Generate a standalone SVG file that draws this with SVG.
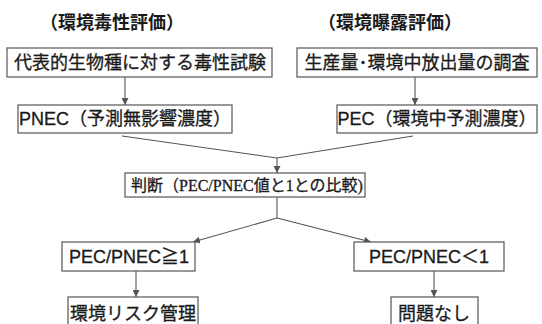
<svg xmlns="http://www.w3.org/2000/svg" width="542" height="324" viewBox="0 0 542 324">
<defs>
<style>
.box{fill:#fff;stroke:#555;stroke-width:1.2}
.t{font-family:"Liberation Sans","Noto Sans CJK JP",sans-serif;font-size:18px;fill:#1a1a1a;stroke:#1a1a1a;stroke-width:0.3;text-anchor:middle}
.h{font-weight:bold;font-size:18px;stroke-width:0}
.j{font-size:16px;text-anchor:start}
.s{font-family:"Liberation Serif","Noto Sans CJK JP",serif}
.ln{fill:none;stroke:#555;stroke-width:1.1}
.ar{marker-end:url(#ah)}
</style>
<marker id="ah" viewBox="0 0 10 10" refX="10" refY="5" markerWidth="7" markerHeight="7" markerUnits="userSpaceOnUse" orient="auto">
<path d="M0,0 L10,5 L0,10 z" fill="#555"/>
</marker>
</defs>
<rect width="542" height="324" fill="#fff"/>
<g id="heading-left"><text class="t h" x="112" y="29">（環境毒性評価）</text></g>
<g id="heading-right"><text class="t h" x="390" y="29">（環境曝露評価）</text></g>
<g id="connectors">
<line class="ln ar" x1="125" y1="77" x2="125" y2="105"/>
<line class="ln ar" x1="415" y1="77" x2="415" y2="105"/>
<polyline class="ln" points="122,136 277,158 413,136"/>
<line class="ln ar" x1="277" y1="158" x2="277" y2="173"/>
<polyline class="ln" points="277,197 277,218"/>
<line class="ln ar" x1="277" y1="218" x2="193" y2="242"/>
<line class="ln ar" x1="277" y1="218" x2="371" y2="242"/>
<line class="ln ar" x1="136" y1="271" x2="136" y2="297"/>
<line class="ln ar" x1="434" y1="271" x2="434" y2="297"/>
</g>
<g id="toxicity-test"><rect class="box" x="7" y="48" width="265" height="29"/><text class="t" x="140" y="69">代表的生物種に対する毒性試験</text></g>
<g id="emission-survey"><rect class="box" x="297" y="48" width="240" height="29"/><text class="t" x="417" y="69">生産量･環境中放出量の調査</text></g>
<g id="pnec"><rect class="box" x="18" y="105" width="214" height="28"/><text class="t" x="125" y="125">PNEC（予測無影響濃度）</text></g>
<g id="pec"><rect class="box" x="337" y="105" width="200" height="28"/><text class="t" x="437" y="125">PEC（環境中予測濃度）</text></g>
<g id="judgement"><rect class="box" x="125" y="173" width="240" height="24"/><text class="t j" x="131" y="191">判断（<tspan class="s">PEC/PNEC</tspan>値と<tspan class="s">1</tspan>との比較<tspan class="s">)</tspan></text></g>
<g id="ratio-ge1"><rect class="box" x="62" y="242" width="133" height="29"/><text class="t" x="129" y="263">PEC/PNEC≧1</text></g>
<g id="ratio-lt1"><rect class="box" x="354" y="242" width="150" height="29"/><text class="t" x="429" y="263">PEC/PNEC＜1</text></g>
<g id="risk-management"><rect class="box" x="68" y="297" width="130" height="32"/><text class="t" x="133" y="320">環境リスク管理</text></g>
<g id="no-problem"><rect class="box" x="391" y="297" width="87" height="32"/><text class="t" x="434" y="320">問題なし</text></g>
</svg>
